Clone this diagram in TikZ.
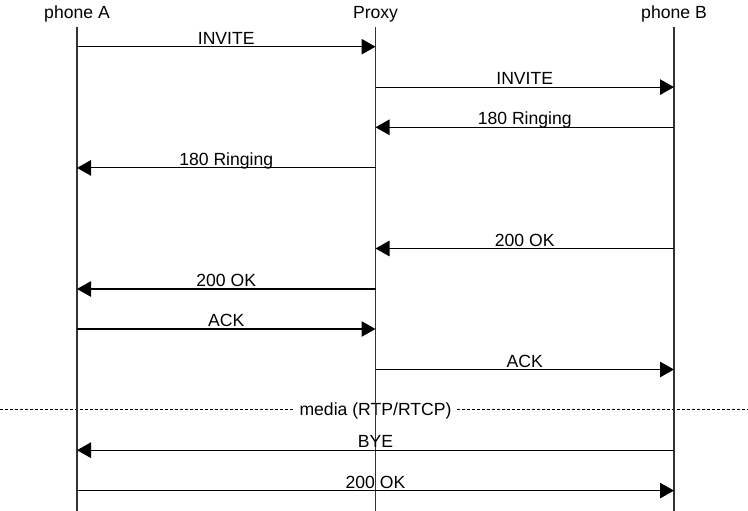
\documentclass[tikz,border=0pt]{standalone}
\usepackage{fontspec}
\setmainfont{Liberation Sans}
\usetikzlibrary{arrows.meta,calc}
\begin{document}
\begin{tikzpicture}[x=1bp,y=-1bp,
  lbl/.style={font=\fontsize{17.6bp}{20bp}\selectfont, inner sep=0pt},
  lifeline/.style={line width=1.2bp, draw=black!80},
  msg/.style={line width=1.1bp, draw=black, -{Triangle[length=14bp,width=15.5bp]}},
  msgtext/.style={lbl, anchor=base, yshift=2.4bp},
  media/.style={line width=1bp, dash pattern=on 3bp off 2bp}
]
\useasboundingbox (0,0) rectangle (748,511);
% headers
\node[lbl, anchor=base] (hA) at (77,18.5) {phone A};
\node[lbl, anchor=base] (hP) at (375.5,18.5) {Proxy};
\node[lbl, anchor=base] (hB) at (674,18.5) {phone B};
% lifeline ends
\coordinate (At) at (77,27.3);  \coordinate (Ab) at (77,511);
\coordinate (Pt) at (375.5,27.3); \coordinate (Pb) at (375.5,511);
\coordinate (Bt) at (674,27.3); \coordinate (Bb) at (674,511);
% message points
\foreach \k/\y in {1/46.7,2/87.1,3/127.3,4/167.9,5/248.5,6/289,7/329,8/369.5,9/409.5,10/450.2,11/490.6}{
  \coordinate (A\k) at (77,\y);
  \coordinate (P\k) at (375.5,\y);
  \coordinate (B\k) at (674,\y);
}
\coordinate (mL) at (0,409.5);
\coordinate (mR) at (748,409.5);
% media label
\node[lbl, anchor=base, inner xsep=5.5bp] (media) at (375.5,415.3) {media (RTP/RTCP)};
\draw[media] (mL) -- (mL -| media.west);
\draw[media] (mR -| media.east) -- (mR);
% lifelines
\draw[lifeline] (At) -- (Ab);
\draw[lifeline] (Pt) -- (Pb);
\draw[lifeline] (Bt) -- (Bb);
% messages
\draw[msg] (A1) -- node[msgtext]{INVITE} (P1);
\draw[msg] (P2) -- node[msgtext]{INVITE} (B2);
\draw[msg] (B3) -- node[msgtext]{180 Ringing} (P3);
\draw[msg] (P4) -- node[msgtext]{180 Ringing} (A4);
\draw[msg] (B5) -- node[msgtext]{200 OK} (P5);
\draw[msg] (P6) -- node[msgtext]{200 OK} (A6);
\draw[msg] (A7) -- node[msgtext]{ACK} (P7);
\draw[msg] (P8) -- node[msgtext]{ACK} (B8);
\draw[msg] (B10) -- node[msgtext]{BYE} (A10);
\draw[msg] (A11) -- node[msgtext]{200 OK} (B11);
\end{tikzpicture}
\end{document}
